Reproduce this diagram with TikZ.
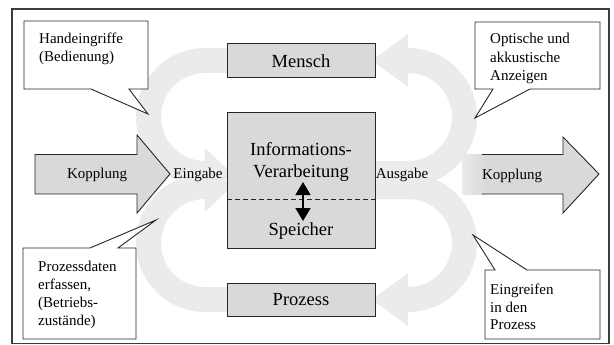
\documentclass[tikz,border=0pt]{standalone}
\usepackage{fontspec}
\setmainfont{Liberation Serif}
\usetikzlibrary{arrows.meta}
\definecolor{boxgray}{RGB}{217,217,217}
\definecolor{arcgray}{RGB}{235,235,235}
\definecolor{framegray}{RGB}{60,60,60}
\begin{document}
\begin{tikzpicture}[x=1pt,y=-1pt,
  boxline/.style={draw=black!85,line width=0.9pt},
  box/.style={boxline,fill=boxgray},
  callout/.style={boxline,fill=white},
  small/.style={font=\fontsize{15}{19}\selectfont,inner sep=0pt},
  big/.style={font=\fontsize{18.5}{22}\selectfont,inner sep=0pt}]
\useasboundingbox (0,0) rectangle (614,345);
% frame
\draw[framegray,line width=1.3pt] (12,9) rectangle (609,343.6);
% grey circular arrows
\fill[arcgray] (227,48) -- (205,48) arc[start angle=270,end angle=90,radius=69]
  -- (205,199) -- (232,173.5) -- (205,148) -- (205,161)
  arc[start angle=90,end angle=270,radius=44] -- (227,73) -- cycle;
\fill[arcgray] (227,312) -- (205,312) arc[start angle=90,end angle=270,radius=69]
  -- (205,161) -- (232,186.5) -- (205,212) -- (205,199)
  arc[start angle=270,end angle=90,radius=44] -- (227,287) -- cycle;
\fill[arcgray] (372,186) -- (408,186) arc[start angle=90,end angle=-90,radius=69]
  -- (408,34) -- (372,60.5) -- (408,87) -- (408,73)
  arc[start angle=-90,end angle=90,radius=44] -- (372,161) -- cycle;
\fill[arcgray] (372,174) -- (408,174) arc[start angle=270,end angle=450,radius=69]
  -- (408,326) -- (372,299.5) -- (408,273) -- (408,287)
  arc[start angle=450,end angle=270,radius=44] -- (372,199) -- cycle;
% left coupling arrow
\draw[box] (35,154.5) -- (137,154.5) -- (137,135) -- (170,174) -- (137,213) -- (137,194) -- (35,194) -- cycle;
% right coupling arrow (fading at its left end)
\shade[left color=arcgray,right color=boxgray] (462,154.5) rectangle (485,194);
\fill[boxgray] (484.5,154.5) -- (563,154.5) -- (563,137) -- (599,174) -- (563,213) -- (563,194) -- (484.5,194) -- cycle;
\draw[boxline] (482,154.5) -- (563,154.5) -- (563,137) -- (599,174) -- (563,213) -- (563,194) -- (482,194);
% boxes
\node[box,minimum width=148pt,minimum height=34pt,inner sep=0pt] (mensch) at (301,60) {};
\node[box,minimum width=148pt,minimum height=136pt,inner sep=0pt] (info) at (301,180) {};
\node[box,minimum width=148pt,minimum height=33pt,inner sep=0pt] (prozess) at (301,299.5) {};
\coordinate (dl) at (227,199);
\coordinate (dr) at (375,199);
\draw[black!85,line width=0.9pt,dash pattern=on 5pt off 3pt] (dl) -- (dr);
\coordinate (up) at (303,182);
\coordinate (dn) at (303,221);
\draw[line width=1.8pt,{Triangle[width=15pt,length=13pt]}-{Triangle[width=15pt,length=13pt]}] (up) -- (dn);
% box texts
\node[big,anchor=base] (tmensch) at (301,67.5) {Mensch};
\node[big,anchor=base] (tinfo1) at (301,156) {Informations-};
\node[big,anchor=base] (tinfo2) at (301,177.5) {Verarbeitung};
\node[big,anchor=base] (tspeicher) at (301,235) {Speicher};
\node[big,anchor=base] (tprozess) at (301,305) {Prozess};
\node[small,anchor=base] (tkopl) at (97,178.5) {Kopplung};
\node[small,anchor=base] (teingabe) at (198,178.5) {Eingabe};
\node[small,anchor=base] (tausgabe) at (402,178.5) {Ausgabe};
\node[small,anchor=base] (tkopr) at (512,179) {Kopplung};
% callouts
\draw[callout] (24,21) -- (148,21) -- (148,89) -- (129,89) -- (148,114) -- (91,89) -- (24,89) -- cycle;
\node[small,anchor=base west] (h1) at (39,43.5) {Handeingriffe};
\node[small,anchor=base west] (h2) at (39,62) {(Bedienung)};
\draw[callout] (475,22) -- (600,22) -- (600,89) -- (530,89) -- (475,118) -- (493,89) -- (475,89) -- cycle;
\node[small,anchor=base west] (o1) at (490,44) {Optische und};
\node[small,anchor=base west] (o2) at (490,62.5) {akkustische};
\node[small,anchor=base west] (o3) at (490,81) {Anzeigen};
\draw[callout] (23,248) -- (90,248) -- (156,220) -- (118,248) -- (136,248) -- (136,339) -- (23,339) -- cycle;
\node[small,anchor=base west] (p1) at (38,271) {Prozessdaten};
\node[small,anchor=base west] (p2) at (38,289) {erfassen,};
\node[small,anchor=base west] (p3) at (38,307) {(Betriebs-};
\node[small,anchor=base west] (p4) at (38,325) {zustände)};
\draw[callout] (485,270) -- (495,270) -- (473,235) -- (527,270) -- (600,270) -- (600,339) -- (485,339) -- cycle;
\node[small,anchor=base west] (e1) at (490,294.5) {Eingreifen};
\node[small,anchor=base west] (e2) at (490,312) {in den};
\node[small,anchor=base west] (e3) at (490,329.5) {Prozess};
\end{tikzpicture}
\end{document}
